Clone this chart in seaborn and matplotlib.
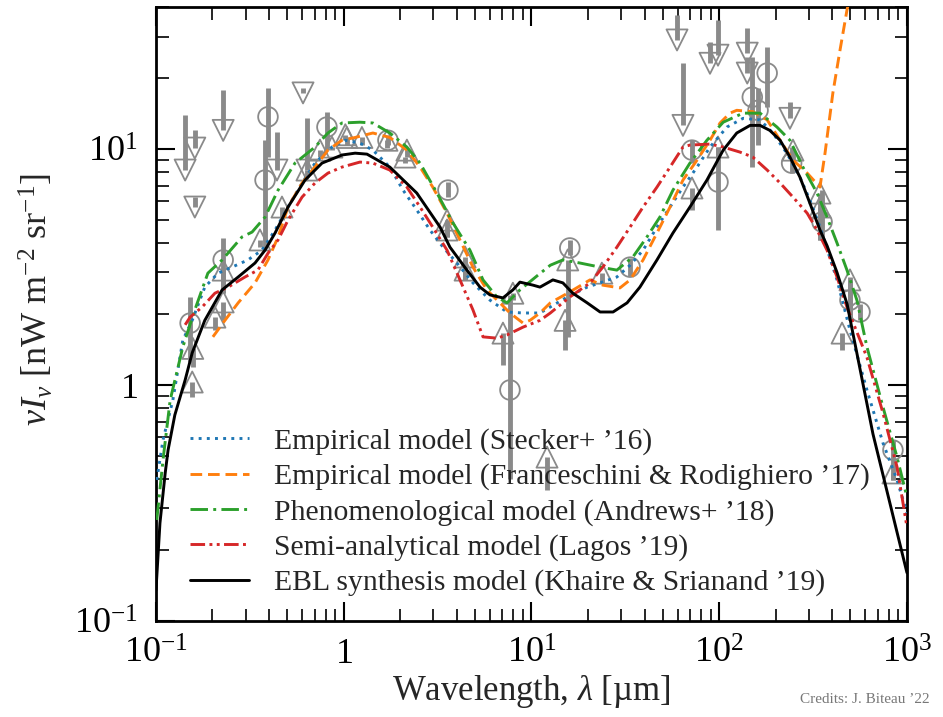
import numpy as np
import pandas as pd
import matplotlib
matplotlib.use("Agg")
import matplotlib.pyplot as plt
import matplotlib.ticker as mticker
import seaborn as sns

# ---------------- data (wavelength in micron, nuI_nu in nW m^-2 sr^-1) ----------------
stecker_wl = [0.101, 0.109, 0.123, 0.139, 0.156, 0.182, 0.214, 0.254, 0.309, 0.367,
              0.431, 0.505, 0.600, 0.703, 0.865, 1.02, 1.22, 1.43, 1.76, 2.07,
              2.45, 2.88, 3.38, 4.01, 4.88, 6.01, 7.40, 9.02, 11.1, 15.5,
              19.8, 23.2, 28.5, 33.5, 39.3, 46.6, 54.7, 64.1, 76.2, 89.3,
              110, 134, 165, 193, 229, 269, 304, 344, 424, 497,
              612, 745, 885, 1000]
stecker_val = [0.396, 0.585, 0.863, 1.55, 1.88, 2.60, 2.98, 3.16, 3.39, 3.73,
               4.54, 5.68, 7.18, 8.72, 10.2, 10.9, 10.6, 9.90, 8.39, 6.70,
               5.52, 4.54, 3.84, 3.29, 2.71, 2.29, 2.04, 2.02, 2.02, 2.36,
               2.60, 2.71, 2.87, 3.22, 3.73, 4.67, 5.68, 6.90, 8.39, 10.2,
               12.4, 13.5, 13.3, 11.7, 9.61, 7.61, 6.08, 4.67, 2.79, 1.71,
               0.953, 0.568, 0.396, 0.287]

franc_wl = [0.201, 0.233, 0.274, 0.337, 0.395, 0.447, 0.505, 0.600, 0.703, 0.824,
            0.979, 1.15, 1.43, 1.76, 2.17, 2.55, 2.98, 3.55, 4.16, 4.88,
            5.79, 6.79, 7.68, 9.02, 9.82, 11.1, 12.6, 16.0, 20.5, 24.0,
            29.6, 33.5, 39.3, 46.6, 54.7, 64.1, 76.2, 89.3, 101, 114,
            124, 151, 180, 211, 247, 294, 344, 366, 403, 440,
            479, 530]
franc_val = [1.60, 1.88, 2.23, 2.71, 3.39, 4.24, 5.68, 7.18, 8.39, 9.90,
             10.9, 11.2, 11.7, 11.2, 9.90, 8.39, 6.90, 5.35, 4.12, 3.16,
             2.53, 2.23, 2.02, 1.83, 1.88, 2.02, 2.23, 2.48, 2.79, 2.65,
             2.58, 2.79, 3.39, 4.41, 5.68, 7.39, 8.98, 10.9, 12.9, 14.2,
             14.6, 14.4, 13.3, 10.9, 8.98, 7.91, 6.90, 9.61, 17.3, 26.3,
             38.8, 55.0]

andrews_wl = [0.101, 0.109, 0.119, 0.139, 0.161, 0.189, 0.225, 0.287, 0.325, 0.381,
              0.447, 0.550, 0.703, 0.824, 0.979, 1.22, 1.43, 1.76, 2.17, 2.55,
              3.14, 3.82, 4.70, 5.52, 6.55, 7.41, 8.68, 10.7, 12.6, 14.7,
              18.1, 23.2, 28.5, 34.7, 41.2, 48.3, 56.7, 69.8, 86.0, 105,
              134, 165, 203, 238, 279, 332, 375, 424, 479, 541,
              612, 745, 885, 1000]
andrews_val = [0.268, 0.481, 0.863, 1.45, 2.08, 2.98, 3.39, 4.24, 4.45, 5.15,
               6.70, 8.72, 10.2, 11.7, 12.9, 13.0, 12.9, 11.7, 10.2, 8.72,
               6.51, 4.86, 3.73, 2.79, 2.36, 2.23, 2.53, 2.90, 3.22, 3.39,
               3.29, 3.16, 3.07, 3.49, 4.24, 5.15, 6.70, 8.72, 10.9, 13.0,
               14.2, 14.2, 12.4, 10.9, 8.39, 6.51, 5.15, 4.00, 3.07, 2.29,
               1.45, 0.807, 0.495, 0.335]

lagos_wl = [0.143, 0.152, 0.176, 0.206, 0.242, 0.298, 0.349, 0.395, 0.447, 0.505,
            0.600, 0.703, 0.824, 0.979, 1.22, 1.43, 1.76, 2.17, 2.55, 2.98,
            3.55, 4.16, 4.88, 5.52, 6.55, 7.40, 9.02, 11.1, 12.6, 16.0,
            20.5, 24.0, 28.5, 33.5, 39.3, 46.6, 54.7, 64.1, 69.8, 89.3,
            105, 129, 151, 180, 211, 247, 294, 332, 375, 424,
            479, 612, 745, 885, 1000]
lagos_val = [1.80, 1.94, 2.14, 2.45, 2.60, 2.87, 3.07, 3.62, 4.12, 5.00,
             6.26, 7.18, 7.91, 8.39, 8.81, 8.72, 8.15, 6.90, 5.68, 4.67,
             3.73, 2.79, 2.08, 1.60, 1.58, 1.63, 1.76, 1.88, 2.02, 2.36,
             2.71, 3.16, 3.84, 4.67, 5.68, 6.90, 8.39, 10.2, 10.4, 10.5,
             10.2, 9.71, 9.25, 8.15, 7.18, 6.26, 5.35, 4.54, 3.73, 2.87,
             2.14, 1.31, 0.761, 0.450, 0.25]

khaire_wl = [0.100, 0.105, 0.112, 0.116, 0.126, 0.143, 0.156, 0.182, 0.225, 0.274,
             0.337, 0.381, 0.431, 0.505, 0.622, 0.766, 0.979, 1.15, 1.33, 1.76,
             2.45, 3.26, 3.68, 4.53, 5.32, 6.01, 7.05, 7.96, 8.68, 10.2,
             11.1, 13.0, 14.7, 16.6, 19.8, 23.2, 27.2, 32.3, 37.8, 46.6,
             56.7, 69.8, 86.0, 105, 124, 146, 165, 186, 211, 238,
             269, 304, 344, 375, 424, 480, 659, 1000]
khaire_val = [0.135, 0.260, 0.424, 0.530, 0.746, 1.05, 1.37, 1.88, 2.53, 2.87,
              3.29, 3.73, 4.41, 5.68, 7.39, 8.72, 9.44, 9.61, 9.52, 8.39,
              6.51, 4.67, 3.84, 3.07, 2.60, 2.41, 2.34, 2.53, 2.73, 2.65,
              2.60, 2.79, 2.71, 2.45, 2.23, 2.04, 2.04, 2.23, 2.60, 3.39,
              4.41, 5.68, 7.39, 9.90, 11.7, 12.6, 12.6, 12.0, 10.9, 9.25,
              7.61, 5.90, 4.54, 3.90, 3.00, 2.20, 0.62, 0.16]

model_labels = ["Empirical model (Stecker+ \u201916)",
                "Empirical model (Franceschini & Rodighiero \u201917)",
                "Phenomenological model (Andrews+ \u201918)",
                "Semi-analytical model (Lagos \u201919)",
                "EBL synthesis model (Khaire & Srianand \u201919)"]

# upper limits: marker value and top of bar
ul_wl = [0.143, 0.161, 0.161, 0.228, 0.441, 0.607, 0.637, 59.6, 64.1, 89.3, 98.5, 141, 141, 238]
ul_val = [8.15, 10.1, 5.68, 12.0, 8.15, 17.3, 8.15, 29.0, 12.6, 23.1, 25.0, 25.5, 21.0, 13.5]
ul_top = [13.9, 12.0, 6.26, 17.8, 11.8, 18.1, 13.5, 37.0, 23.1, 28.4, 35.2, 32.6, 24.5, 15.8]

# lower limits: marker value and bottom of bar
ll_wl = [0.157, 0.156, 0.206, 0.228, 0.228, 0.358, 0.469, 0.637, 0.747, 0.865,
         1.02, 1.04, 1.25, 1.70, 2.17, 2.12, 3.55, 3.55, 4.43, 4.43,
         7.05, 7.96, 12.1, 15.6, 15.1, 23.7, 71.6, 98.5, 247, 344,
         344, 451, 497, 842]
ll_val = [1.43, 1.03, 1.94, 2.25, 3.07, 4.12, 5.68, 8.15, 9.90, 10.2,
          11.5, 11.2, 11.2, 10.9, 9.90, 9.25, 5.00, 4.54, 3.49, 3.07,
          1.66, 2.45, 0.495, 3.39, 1.88, 2.98, 6.84, 10.2, 9.90, 6.51,
          5.68, 1.66, 2.79, 0.424]
ll_bot = [1.19, 0.890, 1.71, 1.88, 2.45, 3.84, 5.00, 7.61, 9.25, 9.90,
          10.9, 10.4, 10.4, 10.1, 9.25, 8.72, 4.24, 4.24, 2.79, 2.79,
          1.22, 2.29, 0.359, 1.60, 1.41, 2.71, 5.52, 8.9, 8.9, 4.12,
          4.12, 1.41, 1.88, 0.396]

# measurements: value with lower / upper error
m_wl = [0.152, 0.228, 0.381, 0.395, 0.814, 1.72, 3.59, 7.68, 16.0, 33.5,
        71.6, 98.5, 180, 150, 161, 243, 353, 497, 562, 842]
m_val = [1.83, 3.39, 7.39, 13.7, 12.4, 10.9, 6.70, 0.953, 3.81, 3.16,
         9.90, 7.25, 21.0, 16.6, 14.6, 8.72, 4.91, 2.29, 2.04, 0.530]
m_lo = [1.25, 2.45, 3.81, 9.25, 9.90, 10.4, 6.26, 0.40, 3.55, 2.90,
        8.72, 4.54, 15.1, 8.39, 10.4, 7.91, 4.12, 1.88, 1.88, 0.396]
m_hi = [2.36, 4.20, 10.9, 18.1, 14.4, 11.5, 7.25, 2.4, 4.1, 3.45,
        10.9, 10.2, 27.0, 24.5, 18.1, 10.2, 6.70, 2.87, 2.20, 0.585]

# ---------------- style ----------------
sns.set_style("ticks")
plt.rcParams["font.family"] = ["Liberation Serif", "DejaVu Serif"]
plt.rcParams["mathtext.fontset"] = "custom"
plt.rcParams["mathtext.rm"] = "Liberation Serif"
plt.rcParams["mathtext.it"] = "Liberation Serif:italic"
plt.rcParams["mathtext.bf"] = "Liberation Serif:bold"

fig = plt.figure(figsize=(9.43, 7.17), dpi=100)
ax = fig.add_axes([0.1654, 0.1339, 0.7964, 0.8563])
ax.set_xscale("log")
ax.set_yscale("log")

gray = "#8a8a8a"
# data points
ax.vlines(ul_wl, ul_val, ul_top, color=gray, lw=3.5, zorder=2)
ax.vlines(ll_wl, ll_bot, ll_val, color=gray, lw=3.5, zorder=2)
ax.vlines(m_wl, m_lo, m_hi, color=gray, lw=3.5, zorder=2)
ax.scatter(ul_wl, ul_val, marker="v", s=230, facecolors="none", edgecolors=gray, linewidths=1.3, zorder=3)
ax.scatter(ll_wl, ll_val, marker="^", s=230, facecolors="none", edgecolors=gray, linewidths=1.3, zorder=3)
ax.scatter(m_wl, m_val, marker="o", s=200, facecolors="none", edgecolors=gray, linewidths=1.3, zorder=3)

models = [
    (stecker_wl, stecker_val, "#1f77b4", (0, (1.0, 1.8))),
    (franc_wl, franc_val, "#ff7f0e", (0, (4.0, 2.0))),
    (andrews_wl, andrews_val, "#2ca02c", (0, (6.0, 1.8, 1.0, 1.8))),
    (lagos_wl, lagos_val, "#d62728", (0, (5.0, 1.5, 1.0, 1.5, 1.0, 1.5))),
    (khaire_wl, khaire_val, "black", "-"),
]
for (wl, val, col, ls), lab in zip(models, model_labels):
    df = pd.DataFrame({"wl": wl, "val": val})
    sns.lineplot(data=df, x="wl", y="val", ax=ax, color=col, lw=2.1,
                 estimator=None, sort=False, label=lab, zorder=4)
    ax.lines[-1].set_linestyle(ls)

ax.set_xlim(0.1, 1000)
ax.set_ylim(0.1, 40)

ax.xaxis.set_major_locator(mticker.FixedLocator([0.1, 1, 10, 100, 1000]))
ax.xaxis.set_major_formatter(mticker.FixedFormatter(
    [r"$10^{-1}$", r"$1$", r"$10^{1}$", r"$10^{2}$", r"$10^{3}$"]))
ax.yaxis.set_major_locator(mticker.FixedLocator([0.1, 1, 10]))
ax.yaxis.set_major_formatter(mticker.FixedFormatter([r"$10^{-1}$", r"$1$", r"$10^{1}$"]))
ax.xaxis.set_minor_locator(mticker.LogLocator(base=10, subs=np.arange(2, 10), numticks=20))
ax.yaxis.set_minor_locator(mticker.LogLocator(base=10, subs=np.arange(2, 10), numticks=20))
ax.xaxis.set_minor_formatter(mticker.NullFormatter())
ax.yaxis.set_minor_formatter(mticker.NullFormatter())

ax.tick_params(which="both", direction="in", top=True, right=True, colors="black")
ax.tick_params(which="major", length=14, width=1.5, labelsize=26)
ax.tick_params(axis="x", which="major", pad=12)
ax.tick_params(axis="y", which="major", pad=13)
ax.tick_params(which="minor", length=9, width=1.2)
for s in ax.spines.values():
    s.set_linewidth(2.0)
    s.set_color("black")

ax.set_xlabel(r"Wavelength, $\lambda$ [µm]", fontsize=25)
ax.set_ylabel(r"$\nu I_\nu$ [nW m$^{-2}$ sr$^{-1}$]", fontsize=26)
ax.xaxis.set_label_coords(0.5, -0.085)
ax.yaxis.set_label_coords(-0.134, 0.524)

leg = ax.legend(loc="lower left", bbox_to_anchor=(0.045, 0.04), frameon=False,
                fontsize=21.3, handlelength=2.0, handletextpad=0.85,
                labelspacing=0.28, borderpad=0, borderaxespad=0)

fig.text(0.917, 0.024, "Credits: J. Biteau \u201922", fontsize=11, color="#777777",
         ha="center", va="center")

fig.savefig("out.png", dpi=100)
